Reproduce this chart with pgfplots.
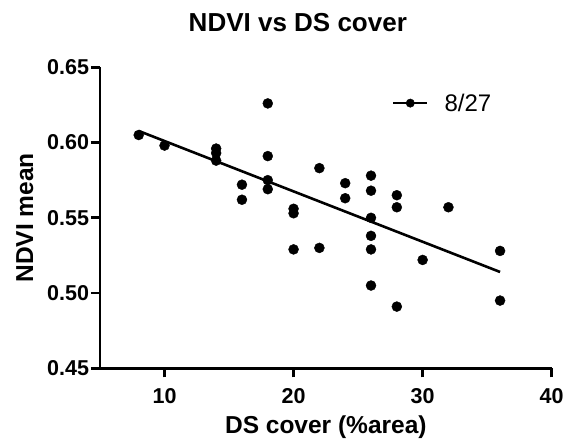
\documentclass[border=0pt]{standalone}
\usepackage{pgfplots}
\pgfplotsset{compat=1.18}
\usepackage{fontspec}
\setmainfont{Liberation Sans}
\begin{document}
\begin{tikzpicture}
\useasboundingbox (-100pt,-74.7pt) rectangle (468pt,368.3pt);
\begin{axis}[
  scale only axis,
  width=451.7pt, height=301pt,
  xmin=5, xmax=40, ymin=0.45, ymax=0.65,
  axis lines=left,
  axis line style={line width=2.6pt, -},
  xtick={10,20,30,40},
  ytick={0.45,0.50,0.55,0.60,0.65},
  tick style={line width=2.6pt, black},
  tick align=outside,
  major tick length=9pt,
  /pgf/number format/assume math mode=true,
  ticklabel style={font=\fontsize{21.5}{24}\selectfont\bfseries},
  xticklabel style={yshift=-8pt},
  yticklabel style={xshift=1.5pt, /pgf/number format/.cd, fixed, fixed zerofill, precision=2},
  label style={font=\fontsize{24.5}{28}\selectfont\bfseries},
  xlabel={DS cover (\%area)},
  ylabel={NDVI mean},
  xlabel style={at={(axis description cs:0.5,-0.218)}, anchor=base},
  ylabel style={at={(axis description cs:-0.1483,0.5)}, anchor=base},
  title={NDVI vs DS cover},
  title style={font=\fontsize{26}{30}\selectfont\bfseries, at={(axis description cs:0.438,1)}, anchor=base, yshift=30pt},
  legend style={draw=none, fill=none, at={(axis description cs:0.646,0.881)}, anchor=west,
    font=\fontsize{24}{26}\selectfont, inner sep=0pt, cells={anchor=west},
    /tikz/every odd column/.append style={column sep=14pt}},
  legend image code/.code={\draw[line width=2.6pt] (0pt,0pt) -- (34pt,0pt); \fill (17pt,0pt) circle (4.2pt);},
  clip=false,
]
\addplot[only marks, mark=*, mark size=5pt, black] coordinates {
(8,0.605) (10,0.598)
(14,0.596) (14,0.593) (14,0.588)
(16,0.572) (16,0.562)
(18,0.626) (18,0.591) (18,0.575) (18,0.569)
(20,0.556) (20,0.553) (20,0.529)
(22,0.583) (22,0.530)
(24,0.573) (24,0.563)
(26,0.578) (26,0.568) (26,0.550) (26,0.538) (26,0.529) (26,0.505)
(28,0.565) (28,0.557) (28,0.491)
(30,0.522) (32,0.557)
(36,0.528) (36,0.495)
};
\addlegendentry{8/27}
\addplot[black, line width=2.6pt, forget plot] coordinates {(8,0.6077) (36,0.514)};
\end{axis}
\end{tikzpicture}
\end{document}
